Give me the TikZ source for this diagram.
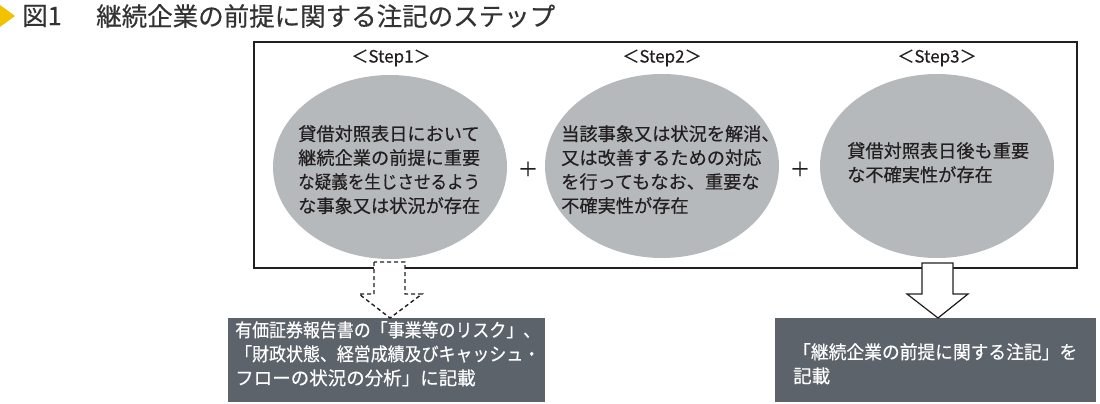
\documentclass[tikz,border=0pt]{standalone}
\usepackage{fontspec}
\setmainfont[FakeBold=0.4]{Noto Sans CJK JP}
\usetikzlibrary{shapes.geometric}
\definecolor{ink}{HTML}{231F20}
\definecolor{ellfill}{HTML}{B6B9BB}
\definecolor{boxfill}{HTML}{5D636B}
\definecolor{titley}{HTML}{F2C200}
\definecolor{titleink}{HTML}{333333}
\newcommand\sqzline[2]{\resizebox{#1}{\height}{#2}}
\tikzset{
  stepell/.style={ellipse, fill=ellfill, draw=none, minimum width=234pt, minimum height=184pt, inner sep=0pt},
  elltext/.style={anchor=north west, inner sep=0pt, align=left, text=ink, font=\fontsize{18.2}{24}\selectfont},
  steplabel/.style={inner sep=0pt, text=ink, font=\fontsize{17}{18}\selectfont},
  plussign/.style={inner sep=0pt, text=ink, font=\fontsize{20}{20}\selectfont},
  resbox/.style={fill=boxfill, draw=none},
  restext/.style={anchor=north west, inner sep=0pt, align=left, text=white, font=\fontsize{18.5}{24}\selectfont},
  titletext/.style={anchor=west, inner sep=0pt, text=titleink, font=\fontsize{25.5}{26}\selectfont},
  blockarrow/.style={fill=white, draw=ink, line width=1.2pt, line join=miter},
}
\begin{document}
\begin{tikzpicture}[x=1pt,y=-1pt]
\useasboundingbox (0,0) rectangle (1100,404);
% title
\fill[titley] (0,5) -- (15,16) -- (0,27) -- cycle;
\node[titletext] (fig) at (22,16) {図1};
\node[titletext] (title) at (96,16) {継続企業の前提に関する注記のステップ};
% frame
\draw[ink, line width=2.8pt] (254,42) rectangle (1077,268);
% step labels
\node[steplabel] (l1) at (391,58) {＜Step1＞};
\node[steplabel] (l2) at (662,58) {＜Step2＞};
\node[steplabel] (l3) at (937,58) {＜Step3＞};
% ellipses
\node[stepell] (e1) at (390,167) {};
\node[stepell] (e2) at (662,166) {};
\node[stepell] (e3) at (937,166) {};
\node[elltext] (t1) at (298,125) {貸借対照表日において\\継続企業の前提に重要\\\sqzline{182pt}{な疑義を生じさせるよう}\\な事象又は状況が存在};
\node[elltext] (t2) at (561,125) {当該事象又は状況を解消、\\又は改善するための対応\\を行ってもなお、重要な\\不確実性が存在};
\node[elltext] (t3) at (847,142) {貸借対照表日後も重要\\な不確実性が存在};
% plus signs
\node[plussign] (p1) at (528,169) {＋};
\node[plussign] (p2) at (800,169) {＋};
% result boxes
\fill[resbox] (228,318) rectangle (545,402);
\node[restext] (r1) at (235,321) {\sqzline{305pt}{有価証券報告書の「事業等のリスク」、}\\\sqzline{305pt}{「財政状態、経営成績及びキャッシュ・}\\フローの状況の分析」に記載};
\fill[resbox] (775,318) rectangle (1096,402);
\node[restext] (r2) at (793,343) {\sqzline{284pt}{「継続企業の前提に関する注記」を}\\記載};
% arrows
\draw[blockarrow, dashed, dash pattern=on 4pt off 3pt, line width=1.4pt] (374,262) -- (374,294) -- (359,294) -- (390,318) -- (422,294) -- (405,294) -- (405,262) -- cycle;
\draw[blockarrow] (922,263) -- (922,294) -- (907,294) -- (938,318) -- (968,294) -- (953,294) -- (953,263) -- cycle;
\end{tikzpicture}
\end{document}
